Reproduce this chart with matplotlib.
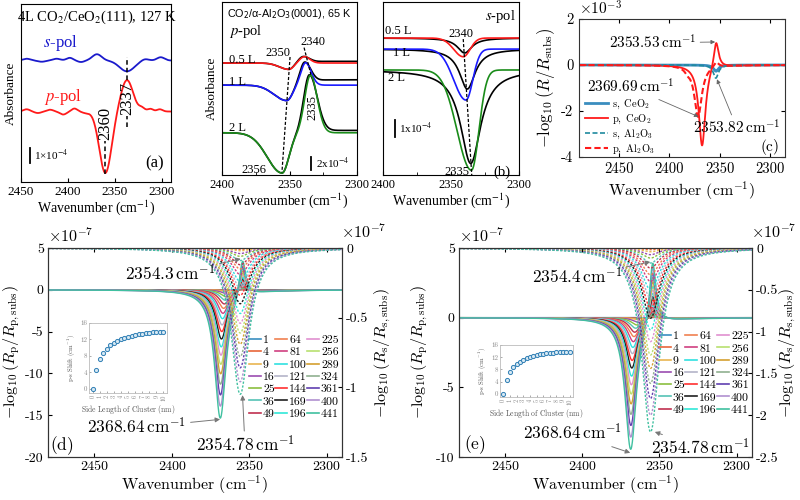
import numpy as np
import matplotlib.pyplot as plt
from matplotlib.lines import Line2D
from matplotlib.font_manager import FontProperties

plt.rcParams['font.family'] = 'Liberation Serif'
plt.rcParams['mathtext.fontset'] = 'stix'
plt.rcParams['axes.unicode_minus'] = False
plt.rcParams['xtick.direction'] = 'in'
plt.rcParams['ytick.direction'] = 'in'
plt.rcParams['axes.linewidth'] = 0.8

# ---------------- data ----------------
# (a) 4L CO2/CeO2(111), 127 K  -- absorbance in units of 1e-4
a_s_base = 8.1
a_s_c = [2337, 2444, 2428, 2412, 2398, 2386, 2369, 2318, 2301]
a_s_h = [-0.72, 0.12, -0.08, 0.12, 0.18, -0.1, 0.42, 0.12, 0.22]
a_s_w = [8, 4, 4, 4, 3.5, 3.5, 5, 4, 4]
a_p_base = 4.7
a_p_c = [2360, 2337, 2444, 2432, 2419, 2405, 2393, 2381, 2321, 2312, 2302]
a_p_h = [-4.1, 2.1, 0.15, -0.1, 0.12, -0.2, 0.2, -0.1, 0.22, 0.18, 0.15]
a_p_w = [6.5, 6.5, 3.5, 3.5, 3.5, 3.5, 3, 3.5, 3, 3, 3]

# (b) CO2/a-Al2O3(0001), 65 K
doses = ['0.5 L', '1 L', '2 L']
dose_colors = ['#ff1a1a', '#1a1aff', '#1a8c1a']
# p-pol (1e-4): baseline, dip (centre, height, left/right width), peak (...)
bp_base = [16.7, 13.4, 6.3]
bp_dip_c = [2350.5, 2352, 2355.5]
bp_dip_h = [-0.95, -2.3, -6.0]
bp_dip_wl = [7, 9.5, 11]
bp_dip_wr = [3.5, 4, 5]
bp_pk_c = [2339, 2338, 2334.5]
bp_pk_h = [0.95, 3.35, 8.6]
bp_pk_wl = [3.5, 3.5, 4.2]
bp_pk_wr = [4, 4, 5]
bp_fit_tail = [0.25, 0.8, 0.35]
# s-pol (1e-4)
bs_base = [8.06, 7.41, 6.18]
bs_dip_c = [2341, 2339, 2335]
bs_dip_h = [-1.1, -3.0, -5.9]
bs_dip_wl = [7, 9, 10.5]
bs_dip_wr = [5, 5, 5.5]
bs_fit_c = [2340, 2338, 2335.5]
bs_fit_h = [-0.88, -2.35, -5.5]
bs_fit_w = [6.5, 7, 9]

# (c) simulated, 1e-3: (centre, height, half width) Lorentz bands
c_names = [r'$\mathrm{s,\ CeO_2}$', r'$\mathrm{p,\ CeO_2}$',
           r'$\mathrm{s,\ Al_2O_3}$', r'$\mathrm{p,\ Al_2O_3}$']
c_bands = [
    [(2353.6, -0.27, 3.0)],
    [(2367.5, -3.55, 4.0), (2353.53, 1.22, 3.0)],
    [(2353.82, -0.57, 3.0)],
    [(2371.5, -2.25, 4.5), (2382, -0.15, 3.0), (2353.5, 0.25, 3.0)],
]

# (d), (e) cluster simulations
cluster_n = [1, 4, 9, 16, 25, 36, 49, 64, 81, 100, 121, 144, 169, 196,
             225, 256, 289, 324, 361, 400, 441]
side_nm = [0, 0.5, 1, 1.5, 2, 2.5, 3, 3.5, 4, 4.5, 5, 5.5, 6, 6.5, 7, 7.5,
           8, 8.5, 9, 9.5, 10]
ps_shift = [0, 4.7, 7.2, 8.7, 9.8, 10.6, 11.2, 11.7, 12.1, 12.4, 12.7, 12.9,
            13.1, 13.25, 13.4, 13.5, 13.6, 13.7, 13.75, 13.8, 13.86]
s_centre = 2354.78
# depth of p dip, height of p peak (left axis, 1e-7), depth of s dip (right axis)
d_p_dip = [0.04, 0.14, 0.32, 0.56, 0.88, 1.27, 1.72, 2.25, 2.85, 3.5, 4.25,
           5.05, 5.95, 6.9, 7.9, 9.0, 10.15, 11.4, 12.7, 14.05, 15.5]
d_p_peak = [0.01, 0.03, 0.07, 0.12, 0.19, 0.28, 0.38, 0.49, 0.62, 0.77, 0.93,
            1.11, 1.3, 1.51, 1.73, 1.97, 2.23, 2.5, 2.78, 3.08, 3.4]
d_s_dip = [0.002, 0.01, 0.02, 0.04, 0.06, 0.09, 0.12, 0.15, 0.19, 0.24, 0.29,
           0.34, 0.40, 0.47, 0.54, 0.61, 0.69, 0.78, 0.86, 0.96, 1.05]
e_p_dip = [0.02, 0.09, 0.2, 0.35, 0.54, 0.78, 1.07, 1.39, 1.76, 2.18, 2.63,
           3.13, 3.68, 4.27, 4.9, 5.57, 6.29, 7.05, 7.86, 8.71, 9.6]
e_p_peak = [0.01, 0.04, 0.08, 0.14, 0.22, 0.32, 0.43, 0.57, 0.72, 0.88, 1.07,
            1.27, 1.49, 1.73, 1.99, 2.26, 2.56, 2.87, 3.19, 3.54, 3.9]
e_s_dip = [0.005, 0.02, 0.045, 0.08, 0.12, 0.18, 0.24, 0.32, 0.40, 0.50, 0.60,
           0.72, 0.84, 0.98, 1.12, 1.28, 1.44, 1.62, 1.80, 2.0, 2.2]

cluster_colors = ['#3a8fc0', '#e8663a', '#e9b552', '#9b4db0', '#8bbf3f',
                  '#55c2b5', '#c0304f', '#f08050', '#d04080', '#30e0e0',
                  '#b4b4c8', '#ff3030', '#202020', '#30e8d8', '#e090d0',
                  '#b8e070', '#d4a030', '#90b090', '#6040b0', '#b090d0',
                  '#40c0a0']


def lor(x, c, w):
    return w ** 2 / ((x - c) ** 2 + w ** 2)


def agau(x, c, wl, wr):
    w = np.where(x >= c, wl, wr)
    return np.exp(-0.5 * ((x - c) / w) ** 2)


def px_axes(x0, y0, x1, y1):
    return fig.add_axes([x0 / 800, 1 - y1 / 500, (x1 - x0) / 800, (y1 - y0) / 500])


fig = plt.figure(figsize=(8, 5), dpi=100)
CM = dict(math_fontfamily='cm')

# ---------------- (a) ----------------
ax = px_axes(21, 4, 171, 182)
xa = np.linspace(2450, 2290, 800)
ys = np.full_like(xa, a_s_base)
for c, h, w in zip(a_s_c, a_s_h, a_s_w):
    ys += h * agau(xa, c, w, w)
yp = np.full_like(xa, a_p_base)
for c, h, w in zip(a_p_c, a_p_h, a_p_w):
    yp += h * agau(xa, c, w, w)
ax.plot(xa, ys, color='#1a1acc', lw=1.3)
ax.plot(xa, yp, color='#ff1a1a', lw=1.3)
ax.plot([2360, 2360], [0.55, 2.75], 'k--', lw=1.1, dashes=(3, 2))
ax.plot([2337, 2337], [6.8, 8.35], 'k--', lw=1.1, dashes=(3, 2))
ax.plot([2337, 2337], [3.7, 4.4], 'k--', lw=1.1, dashes=(3, 2))
ax.text(2360, 3.9, '2360', rotation=90, ha='center', va='center', fontsize=12)
ax.text(2337, 5.55, '2337', rotation=90, ha='center', va='center', fontsize=12)
ax.text(2369, 11.0, '4L CO$_2$/CeO$_2$(111), 127 K', ha='center', va='center', fontsize=10.5)
ax.text(2408, 9.3, '$s$-pol', color='#1a1acc', ha='center', va='center', fontsize=12)
ax.text(2405, 5.7, '$p$-pol', color='#ff1a1a', ha='center', va='center', fontsize=12)
ax.plot([2440.5, 2440.5], [1.27, 2.27], 'k-', lw=1.3)
ax.text(2436, 1.77, '1×10$^{-4}$', ha='left', va='center', fontsize=8)
ax.text(2307, 1.25, '(a)', ha='center', va='center', fontsize=12)
ax.set_xlim(2450, 2290)
ax.set_ylim(0, 11.87)
ax.set_xticks([2450, 2400, 2350, 2300])
ax.set_yticks([])
ax.tick_params(labelsize=9.5, length=3, pad=3)
ax.set_xlabel('Wavenumber (cm$^{-1}$)', fontsize=10, labelpad=0)
ax.set_ylabel('Absorbance', fontsize=9.5, labelpad=3)

# ---------------- (b) p-pol ----------------
xb = np.linspace(2400, 2300, 600)
ax = px_axes(222, 2, 357, 175)
for i in range(3):
    band = (bp_dip_h[i] * agau(xb, bp_dip_c[i], bp_dip_wl[i], bp_dip_wr[i])
            + bp_pk_h[i] * agau(xb, bp_pk_c[i], bp_pk_wl[i], bp_pk_wr[i]))
    tail = bp_fit_tail[i] / (1 + np.exp((xb - (bp_pk_c[i] - 5)) / 3))
    fit = (bp_dip_h[i] * agau(xb, bp_dip_c[i], bp_dip_wl[i], bp_dip_wr[i])
           + bp_pk_h[i] * agau(xb, bp_pk_c[i] + 0.8, bp_pk_wl[i], bp_pk_wr[i] * 1.15))
    ax.plot(xb, bp_base[i] + fit + tail, color='k', lw=1.2)
    ax.plot(xb, bp_base[i] + band, color=dose_colors[i], lw=1.2)
ax.plot([2339.2, 2333.8], [19.0, 14.7], 'k--', lw=0.9, dashes=(2.5, 1.5))
ax.plot([2349.6, 2355.6], [17.6, 0.4], 'k--', lw=0.9, dashes=(2.5, 1.5))
ax.text(2395, 17.2, '0.5 L', fontsize=9, va='center')
ax.text(2395, 13.9, '1 L', fontsize=9, va='center')
ax.text(2395, 7.0, '2 L', fontsize=9, va='center')
ax.text(2358.5, 18.2, '2350', fontsize=9, ha='center', va='center')
ax.text(2332.6, 19.9, '2340', fontsize=9, ha='center', va='center')
ax.text(2333.2, 10.0, '2335', fontsize=9, ha='center', va='center', rotation=90)
ax.text(2376, 0.8, '2356', fontsize=9, ha='center', va='center')
ax.text(2350, 24.0, 'CO$_2$/α-Al$_2$O$_3$(0001), 65 K', fontfamily='Liberation Sans',
        math_fontfamily='dejavusans', fontsize=7.8, ha='center', va='center')
ax.text(2395, 21.4, '$p$-pol', fontsize=10.5, ha='left', va='center')
ax.plot([2334, 2334], [0.75, 2.75], 'k-', lw=1.3)
ax.text(2330, 1.75, '2x10$^{-4}$', fontsize=8, ha='left', va='center')
ax.set_xlim(2400, 2300)
ax.set_ylim(0, 25.8)
ax.set_xticks([2400, 2350, 2300])
ax.set_xticks([2375, 2325], minor=True)
ax.set_yticks([])
ax.tick_params(labelsize=9, length=3, pad=3)
ax.tick_params(which='minor', length=2)
ax.set_xlabel('Wavenumber (cm$^{-1}$)', fontsize=10, labelpad=0)
ax.set_ylabel('Absorbance', fontsize=9.5, labelpad=3)

# ---------------- (b) s-pol ----------------
ax = px_axes(383, 2, 519, 175)
for i in range(3):
    data = bs_base[i] + bs_dip_h[i] * agau(xb, bs_dip_c[i], bs_dip_wl[i], bs_dip_wr[i])
    fit = bs_base[i] + bs_fit_h[i] * lor(xb, bs_fit_c[i], bs_fit_w[i])
    ax.plot(xb, fit, color='k', lw=1.2)
    ax.plot(xb, data, color=dose_colors[i], lw=1.2)
ax.plot([2341, 2334.6], [8.0, -0.2], 'k--', lw=0.9, dashes=(2.5, 1.5))
ax.text(2398.5, 8.45, '0.5 L', fontsize=9, va='center')
ax.text(2392.6, 7.18, '1 L', fontsize=9, va='center')
ax.text(2396, 5.7, '2 L', fontsize=9, va='center')
ax.text(2343, 8.3, '2340', fontsize=9, ha='center', va='center')
ax.text(2346, 0.15, '2335', fontsize=9, ha='center', va='center')
ax.text(2314, 9.3, '$s$-pol', fontsize=10.5, ha='center', va='center')
ax.text(2312.5, 0.15, '(b)', fontsize=10.5, ha='center', va='center')
ax.plot([2391.5, 2391.5], [2.24, 3.24], 'k-', lw=1.3)
ax.text(2388, 2.74, '1x10$^{-4}$', fontsize=8, ha='left', va='center')
ax.set_xlim(2400, 2300)
ax.set_ylim(0, 10.18)
ax.set_xticks([2400, 2350, 2300])
ax.set_xticks([2375, 2325], minor=True)
ax.set_yticks([])
ax.tick_params(labelsize=9, length=3, pad=3)
ax.tick_params(which='minor', length=2)
ax.set_xlabel('Wavenumber (cm$^{-1}$)', fontsize=10, labelpad=0)

# ---------------- (c) ----------------
ax = px_axes(579, 19, 785, 157)
xc = np.linspace(2490, 2285, 1200)
c_styles = [dict(color='#3a8dbf', lw=2.0, ls='-'),
            dict(color='#ff1a1a', lw=1.3, ls='-'),
            dict(color='#1f8a9e', lw=1.2, ls=(0, (3, 1.5))),
            dict(color='#ff1a1a', lw=1.5, ls=(0, (3, 1.5)))]
for name, bl, st in zip(c_names, c_bands, c_styles):
    y = np.zeros_like(xc)
    for c, h, w in bl:
        y += h * lor(xc, c, w)
    ax.plot(xc, y, label=name, **st)
arr = dict(arrowstyle='-|>', color='#666666', lw=0.6, mutation_scale=6, shrinkA=1, shrinkB=0)
ax.annotate(r'$2353.53\,\mathrm{cm}^{-1}$', xy=(2354.5, 1.0), xytext=(2417, 0.96),
            ha='center', va='center', fontsize=11, arrowprops=arr, **CM)
ax.annotate(r'$2369.69\,\mathrm{cm}^{-1}$', xy=(2371, -2.25), xytext=(2439, -0.96),
            ha='center', va='center', fontsize=11, arrowprops=arr, **CM)
ax.annotate(r'$2353.82\,\mathrm{cm}^{-1}$', xy=(2352.7, -0.62), xytext=(2332.8, -2.74),
            ha='center', va='center', fontsize=11, arrowprops=arr, **CM)
ax.text(2300, -3.57, r'$\mathrm{(c)}$', ha='center', va='center', fontsize=11, **CM)
ax.text(0.0, 1.01, r'$\times10^{-3}$', transform=ax.transAxes, ha='left', va='bottom',
        fontsize=11, **CM)
ax.legend(loc='upper left', bbox_to_anchor=(0.03, 0.43), frameon=False,
          prop=FontProperties(size=7.5, math_fontfamily='cm'),
          handlelength=2.2, handletextpad=0.4, labelspacing=0.15, borderpad=0, borderaxespad=0)
ax.set_xlim(2490, 2285)
ax.set_ylim(-4, 2)
ax.set_xticks([2450, 2400, 2350, 2300], labels=['2450', '2400', '2350', '2300'],
              fontfamily='cmr10')
ax.set_yticks([-4, -2, 0, 2], labels=['-4', '-2', '0', '2'], fontfamily='cmr10')
ax.tick_params(labelsize=10.5, length=3, top=True, right=True, pad=4)
ax.set_xlabel(r'$\mathrm{Wavenumber\ (cm^{-1})}$', fontsize=11.5, labelpad=2, **CM)
ax.set_ylabel(r'$-\log_{10}(R/R_\mathrm{subs})$', fontsize=12, **CM)
ax.yaxis.set_label_coords(-0.105, 0.5)
for s in ax.spines.values():
    s.set_color('#333333')


# ---------------- (d), (e) ----------------
def sim_panel(rect, inset_rect, p_dip, p_peak, s_dip, peak_c, ylim_l, ylim_r,
              yt_l, yt_r, anns, tag, leg_anchor, lab_x):
    ax = px_axes(*rect)
    ax2 = ax.twinx()
    x = np.linspace(2480, 2290, 1500)
    handles = []
    for i in range(len(cluster_n)):
        cd = s_centre + ps_shift[i]
        amp_pk = p_peak[i] + p_dip[i] * lor(peak_c, cd, 4.5)
        yp = -p_dip[i] * lor(x, cd, 4.5) + amp_pk * lor(x, peak_c, 2.6)
        ax.plot(x, yp, color=cluster_colors[i], lw=1.0)
        ys = -s_dip[i] * lor(x, s_centre + 1.0, 7.0)
        ax2.plot(x, ys, color=cluster_colors[i], lw=1.0, ls=(0, (1.6, 1.2)))
        handles.append(Line2D([], [], color=cluster_colors[i], lw=1.2))
    ax.set_xlim(2480, 2290)
    ax.set_ylim(*ylim_l)
    ax2.set_ylim(*ylim_r)
    ax.set_xticks([2450, 2400, 2350, 2300], labels=['2450', '2400', '2350', '2300'],
                  fontfamily='cmr10')
    ax.set_yticks(yt_l, labels=[str(v) for v in yt_l], fontfamily='cmr10')
    ax2.set_yticks(yt_r, labels=[('%g' % v) for v in yt_r], fontfamily='cmr10')
    ax.tick_params(labelsize=10, length=3, top=True, pad=3)
    ax2.tick_params(labelsize=10, length=3, pad=3)
    ax.set_xlabel(r'$\mathrm{Wavenumber\ (cm^{-1})}$', fontsize=11.5, labelpad=0, **CM)
    ax.set_ylabel(r'$-\log_{10}(R_\mathrm{p}/R_\mathrm{p,subs})$', fontsize=11.5, **CM)
    ax2.set_ylabel(r'$-\log_{10}(R_\mathrm{s}/R_\mathrm{s,subs})$', fontsize=11.5, **CM)
    ax.yaxis.set_label_coords(lab_x[0], 0.5)
    ax2.yaxis.set_label_coords(lab_x[1], 0.5)
    for a in (ax, ax2):
        for s in a.spines.values():
            s.set_color('#333333')
    ax.text(0.0, 1.01, r'$\times10^{-7}$', transform=ax.transAxes, ha='left',
            va='bottom', fontsize=11.5, **CM)
    ax.text(0.995, 1.03, r'$\times10^{-7}$', transform=ax.transAxes, ha='left',
            va='bottom', fontsize=11.5, **CM)
    arr = dict(arrowstyle='-|>', color='#777777', lw=0.7, mutation_scale=7,
               shrinkA=1, shrinkB=0)
    for txt, xy, xyt in anns:
        ax2.annotate(txt, xy=xy, xytext=xyt, xycoords=ax.transData, textcoords=ax.transData,
                     ha='center', va='center', fontsize=12.5, arrowprops=arr, **CM)
    ax2.text(tag[1], tag[2], tag[0], transform=ax.transData, ha='center', va='center',
             fontsize=12.5, **CM)
    ax2.legend(handles, [str(n) for n in cluster_n], ncol=3, loc='upper left',
               bbox_to_anchor=leg_anchor, frameon=False,
               prop=FontProperties(family='cmr10', size=8.5),
               handlelength=0.95, handletextpad=0.2, columnspacing=0.05,
               labelspacing=0.17, borderpad=0, borderaxespad=0)
    # inset: p-s shift
    ai = px_axes(*inset_rect)
    ai.plot(side_nm, ps_shift, 'o', ms=3, mfc='#d6e8f3', mec='#2f7fb5', mew=0.7)
    ai.set_xlim(-0.5, 10.5)
    ai.set_ylim(-1, 16)
    ai.set_xticks(range(11), labels=[str(v) for v in range(11)], rotation=90,
                  fontfamily='cmr10', fontsize=4.5, color='#555555')
    ai.set_yticks([0, 4, 8, 12, 16], labels=['0', '4', '8', '12', '16'],
                  fontfamily='cmr10', fontsize=5, color='#555555')
    ai.tick_params(length=1.5, pad=1.5, width=0.5, colors='#888888')
    ai.set_xlabel(r'$\mathrm{Side\ Length\ of\ Cluster\ (nm)}$', fontsize=5.5,
                  labelpad=1, color='#555555', **CM)
    ai.set_ylabel(r'$\mathrm{p}$-$\mathrm{s\ Shift\ (cm^{-1})}$', fontsize=4.8,
                  labelpad=1.5, color='#555555', **CM)
    for s in ai.spines.values():
        s.set_color('#bbbbbb')
        s.set_linewidth(0.6)


sim_panel((48, 248, 342, 457), (89, 323, 167, 393), d_p_dip, d_p_peak, d_s_dip,
          2354.3, (-20, 5), (-1.5, 0), [-20, -15, -10, -5, 0, 5], [0, -0.5, -1, -1.5],
          [(r'$2354.3\,\mathrm{cm}^{-1}$', (2355.5, 3.7), (2401, 1.8)),
           (r'$2368.64\,\mathrm{cm}^{-1}$', (2368.8, -15.5), (2422.5, -16.5)),
           (r'$2354.78\,\mathrm{cm}^{-1}$', (2354.3, -12.6), (2352.7, -18.6))],
          (r'$\mathrm{(d)}$', 2471, -18.6), (0.685, 0.584), (-0.09, 1.105))

sim_panel((459, 248, 752, 457), (500, 345, 573, 397), e_p_dip, e_p_peak, e_s_dip,
          2354.4, (-10, 5), (-2.5, 0), [-10, -5, 0, 5],
          [0, -0.5, -1, -1.5, -2, -2.5],
          [(r'$2354.4\,\mathrm{cm}^{-1}$', (2356, 4.0), (2403.5, 2.9)),
           (r'$2368.64\,\mathrm{cm}^{-1}$', (2369, -9.7), (2406.7, -8.3)),
           (r'$2354.78\,\mathrm{cm}^{-1}$', (2353, -8.2), (2323.7, -9.35))],
          (r'$\mathrm{(e)}$', 2470, -9.1), (0.684, 0.603), (-0.1, 1.088))

fig.savefig('out.png', dpi=100)
